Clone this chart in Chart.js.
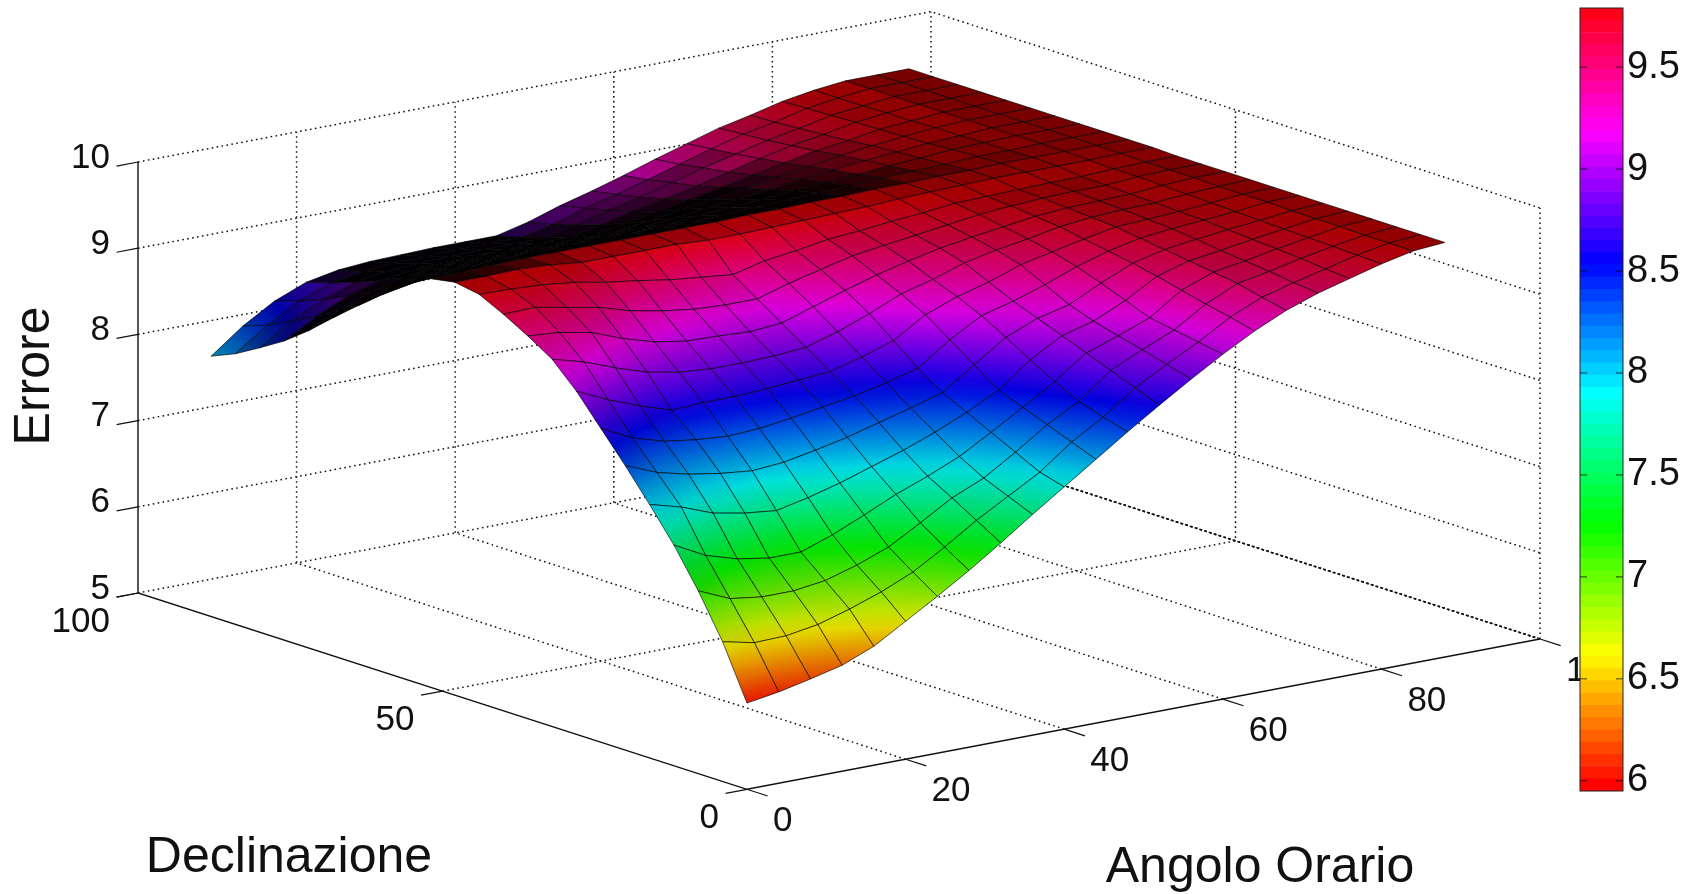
<!DOCTYPE html>
<html lang="it">
<head>
    <meta charset="UTF-8">
    <title>Errore - Angolo Orario - Declinazione</title>
    <style>
        body { margin: 0; background: #fff; overflow: hidden; }
        #surface { position: absolute; left: 0; top: 0; }
        #colorbar { position: absolute; left: 1570px; top: 0; }
    </style>
    <script src="https://cdn.jsdelivr.net/npm/chart.js"></script>
</head>
<body>
    <canvas id="surface" width="1693" height="894"></canvas>
    <canvas id="colorbar" width="123" height="894"></canvas>

    <script>
        // griglia
        const hourAngles = [0, 4, 8, 12, 16, 20, 24, 28, 32, 36, 40, 44, 48, 52, 56, 60, 64, 68, 72, 76, 80, 84, 88];
        const declinations = [0, 4, 8, 12, 16, 20, 24, 28, 32, 36, 40, 44, 48, 52, 56, 60, 64, 68, 72, 76, 80, 84, 88];

        // una riga per ogni angolo orario, una colonna per ogni declinazione
        const errorValues = [
            [6.00,6.62,7.12,7.56,7.94,8.30,8.64,8.98,9.26,9.44,9.60,9.74,9.79,9.74,9.58,9.37,9.15,8.92,8.68,8.47,8.30,8.14,8.02],
            [6.06,6.54,6.96,7.37,7.84,8.15,8.46,8.81,9.16,9.41,9.61,9.73,9.79,9.75,9.62,9.44,9.25,9.06,8.86,8.68,8.54,8.40,8.30],
            [6.14,6.55,6.91,7.26,7.70,8.06,8.35,8.67,9.02,9.34,9.54,9.71,9.80,9.76,9.65,9.50,9.34,9.17,9.00,8.85,8.72,8.61,8.52],
            [6.23,6.61,6.91,7.20,7.63,8.00,8.30,8.55,8.90,9.20,9.47,9.67,9.78,9.77,9.67,9.53,9.39,9.25,9.09,8.96,8.85,8.75,8.67],
            [6.38,6.72,6.96,7.20,7.59,7.96,8.27,8.57,8.83,9.09,9.36,9.60,9.74,9.77,9.68,9.55,9.42,9.28,9.14,9.01,8.91,8.81,8.74],
            [6.60,6.85,7.07,7.33,7.67,7.99,8.29,8.57,8.80,9.03,9.29,9.55,9.74,9.77,9.68,9.56,9.43,9.30,9.16,9.03,8.93,8.84,8.77],
            [6.82,7.01,7.21,7.49,7.77,8.06,8.34,8.59,8.80,9.02,9.24,9.49,9.74,9.77,9.68,9.56,9.43,9.30,9.16,9.04,8.94,8.85,8.78],
            [7.05,7.23,7.42,7.66,7.89,8.14,8.40,8.62,8.81,9.00,9.22,9.45,9.74,9.77,9.68,9.56,9.44,9.31,9.17,9.05,8.95,8.86,8.79],
            [7.30,7.47,7.64,7.80,8.01,8.24,8.46,8.65,8.84,9.03,9.22,9.41,9.72,9.77,9.68,9.56,9.44,9.31,9.17,9.05,8.95,8.86,8.79],
            [7.56,7.68,7.80,7.96,8.15,8.34,8.54,8.75,8.95,9.15,9.33,9.50,9.72,9.77,9.68,9.56,9.44,9.31,9.17,9.05,8.95,8.86,8.79],
            [7.81,7.89,8.03,8.17,8.31,8.45,8.64,8.87,9.09,9.27,9.42,9.55,9.73,9.78,9.69,9.59,9.47,9.35,9.23,9.12,9.03,8.94,8.88],
            [8.06,8.17,8.28,8.39,8.50,8.70,8.90,9.10,9.25,9.38,9.51,9.61,9.74,9.78,9.71,9.62,9.52,9.41,9.30,9.21,9.13,9.06,9.00],
            [8.31,8.39,8.48,8.62,8.78,8.95,9.11,9.24,9.35,9.47,9.56,9.64,9.75,9.79,9.72,9.64,9.55,9.46,9.36,9.28,9.21,9.15,9.10],
            [8.55,8.66,8.77,8.88,8.99,9.10,9.21,9.34,9.47,9.55,9.61,9.68,9.76,9.79,9.74,9.67,9.59,9.52,9.43,9.36,9.31,9.25,9.21],
            [8.78,8.86,8.94,9.01,9.09,9.19,9.33,9.47,9.55,9.61,9.66,9.71,9.78,9.80,9.75,9.70,9.64,9.58,9.51,9.45,9.41,9.36,9.33],
            [9.00,9.05,9.10,9.15,9.26,9.37,9.47,9.55,9.61,9.66,9.71,9.75,9.79,9.80,9.77,9.72,9.68,9.63,9.58,9.54,9.50,9.47,9.44],
            [9.20,9.27,9.33,9.40,9.47,9.53,9.58,9.63,9.68,9.71,9.74,9.76,9.80,9.81,9.78,9.75,9.72,9.69,9.65,9.62,9.59,9.57,9.55],
            [9.37,9.43,9.50,9.54,9.58,9.62,9.66,9.70,9.72,9.74,9.76,9.77,9.81,9.81,9.79,9.77,9.75,9.73,9.70,9.68,9.66,9.64,9.63],
            [9.50,9.53,9.57,9.60,9.63,9.67,9.70,9.72,9.74,9.75,9.77,9.78,9.81,9.82,9.81,9.80,9.78,9.77,9.76,9.75,9.74,9.73,9.72],
            [9.60,9.62,9.65,9.67,9.69,9.71,9.73,9.74,9.75,9.76,9.77,9.78,9.81,9.82,9.81,9.81,9.80,9.80,9.79,9.79,9.78,9.78,9.78],
            [9.70,9.71,9.72,9.73,9.74,9.75,9.76,9.77,9.78,9.79,9.80,9.80,9.81,9.82,9.82,9.82,9.82,9.82,9.82,9.82,9.82,9.82,9.82],
            [9.78,9.78,9.78,9.79,9.79,9.79,9.80,9.80,9.80,9.81,9.81,9.81,9.82,9.82,9.82,9.82,9.82,9.82,9.82,9.82,9.82,9.82,9.82],
            [9.81,9.81,9.81,9.81,9.81,9.81,9.81,9.81,9.81,9.81,9.81,9.81,9.82,9.82,9.82,9.82,9.82,9.82,9.82,9.82,9.82,9.82,9.82]
        ];

        // tacche degli assi
        const hourTicks = [0, 20, 40, 60, 80, 100];
        const declTicks = [0, 50, 100];
        const errorTicks = [5, 6, 7, 8, 9, 10];
        const barTicks = [6, 6.5, 7, 7.5, 8, 8.5, 9, 9.5];

        // livelli della colorbar (64 bande)
        const barLevels = [5.95,6.01,6.07,6.13,6.19,6.25,6.31,6.37,6.43,6.49,6.55,6.61,6.67,6.73,6.79,6.85,
            6.91,6.97,7.03,7.09,7.15,7.21,7.27,7.33,7.39,7.45,7.51,7.57,7.63,7.69,7.75,7.81,
            7.87,7.93,7.99,8.05,8.11,8.17,8.23,8.29,8.35,8.41,8.47,8.53,8.59,8.65,8.71,8.77,
            8.83,8.89,8.95,9.01,9.07,9.13,9.19,9.25,9.31,9.37,9.43,9.49,9.55,9.61,9.67,9.73,9.79];

        const FONT = '"Liberation Sans", Arial, sans-serif';
        const surfaceCanvas = document.getElementById('surface');
        const surfaceCtx = surfaceCanvas.getContext('2d');

        // proiezione ortografica del box (origine in h=0, d=0, z=5)
        function project(h, d, z) {
            return {
                x: 747 + 7.93 * h - 6.09 * d,
                y: 789.3 - 1.503 * h - 1.963 * d - 86.2 * (z - 5)
            };
        }

        // colormap hsv di matlab
        function hsvColor(hue, shade) {
            const i = Math.floor(hue * 6), f = hue * 6 - i;
            const rgb = [[1, f, 0], [1 - f, 1, 0], [0, 1, f], [0, 1 - f, 1], [f, 0, 1], [1, 0, 1 - f]][i % 6];
            return 'rgb(' + rgb.map(c => Math.round(c * 255 * shade)).join(',') + ')';
        }

        function valueColor(value, shade) {
            const lo = barLevels[0], hi = barLevels[barLevels.length - 1];
            return hsvColor(Math.max(0, Math.min(0.999, (value - lo) / (hi - lo))), shade);
        }

        // la maglia originale e' circa tre volte piu' fitta: ne scurisco il riempimento
        function meshShade(pts) {
            let area = 0, perim = 0;
            for (let i = 0; i < 4; i++) {
                const a = pts[i], b = pts[i + 1];
                area += a.x * b.y - b.x * a.y;
                perim += Math.hypot(b.x - a.x, b.y - a.y);
            }
            area = Math.abs(area) / 2 / 9;
            const ink = perim / 3 / (2 * Math.max(area, 1));
            return Math.max(0.05, 1 - 1.8 * Math.pow(ink, 1.5));
        }

        // riempimento sfumato della cella, come shading interp
        function cellFill(pts, zs, backFold) {
            const shade = meshShade(pts) * backFold;
            const zMin = Math.min(...zs), zMax = Math.max(...zs);
            const zMid = (zs[0] + zs[1] + zs[2] + zs[3]) / 4;
            const ax = pts[2].x - pts[0].x, ay = pts[2].y - pts[0].y;
            const bx = pts[3].x - pts[1].x, by = pts[3].y - pts[1].y;
            const dA = zs[2] - zs[0], dB = zs[3] - zs[1];
            const det = ax * by - ay * bx;
            if (Math.abs(det) < 1 || zMax - zMin < 0.01) return valueColor(zMid, shade);
            const gx = (dA * by - dB * ay) / det, gy = (ax * dB - bx * dA) / det;
            const g2 = gx * gx + gy * gy;
            const cx = (pts[0].x + pts[1].x + pts[2].x + pts[3].x) / 4;
            const cy = (pts[0].y + pts[1].y + pts[2].y + pts[3].y) / 4;
            const grad = surfaceCtx.createLinearGradient(
                cx + gx * (zMin - zMid) / g2, cy + gy * (zMin - zMid) / g2,
                cx + gx * (zMax - zMid) / g2, cy + gy * (zMax - zMid) / g2);
            for (let k = 0; k <= 3; k++) {
                grad.addColorStop(k / 3, valueColor(zMin + (zMax - zMin) * k / 3, shade));
            }
            return grad;
        }

        function line3d(points, color, width, dash) {
            return {
                type: 'scatter',
                data: points.map(p => project(p[0], p[1], p[2])),
                showLine: true, fill: false, pointRadius: 0,
                borderColor: color, borderWidth: width, borderDash: dash || []
            };
        }

        const datasets = [];

        // assi solidi e tacche, davanti a tutto
        datasets.push(line3d([[100, 0, 5], [0, 0, 5], [0, 100, 5], [0, 100, 10]], '#111', 1.4));
        hourTicks.forEach(h => datasets.push(line3d([[h, 0, 5], [h, -3.4, 5]], '#111', 1.2)));
        declTicks.forEach(d => datasets.push(line3d([[0, d, 5], [-2.7, d, 5]], '#111', 1.2)));
        errorTicks.forEach(z => datasets.push(line3d([[0, 100, z], [-2.7, 100, z]], '#111', 1.2)));

        // superficie, dalla cella piu' vicina alla piu' lontana (il dataset 0 sta sopra)
        for (let j = 0; j < declinations.length - 1; j++) {
            for (let i = 0; i < hourAngles.length - 1; i++) {
                const zs = [errorValues[i][j], errorValues[i + 1][j], errorValues[i + 1][j + 1], errorValues[i][j + 1]];
                const pts = [
                    project(hourAngles[i], declinations[j], zs[0]),
                    project(hourAngles[i + 1], declinations[j], zs[1]),
                    project(hourAngles[i + 1], declinations[j + 1], zs[2]),
                    project(hourAngles[i], declinations[j + 1], zs[3]),
                    project(hourAngles[i], declinations[j], zs[0])
                ];
                // dietro la cresta la maglia si chiude e diventa quasi nera (tranne la punta)
                const slope = (zs[2] + zs[3] - zs[0] - zs[1]) / 2 / (declinations[j + 1] - declinations[j]);
                const nearTip = declinations[j] >= 72 && hourAngles[i] < 12;
                const backFold = (slope < -0.01 && !nearTip) ? Math.max(0.3, 1 + slope * 25) : 1;
                datasets.push({
                    type: 'scatter',
                    data: pts,
                    showLine: true, fill: 'shape', pointRadius: 0,
                    backgroundColor: cellFill(pts, zs, backFold),
                    borderColor: 'rgba(0,0,0,0.7)', borderWidth: 0.9
                });
            }
        }

        // griglia punteggiata del box
        const DOT = [1.6, 3.4];
        errorTicks.forEach(z => {
            datasets.push(line3d([[0, 100, z], [100, 100, z], [100, 0, z]], '#111', 1.5, DOT));
        });
        hourTicks.slice(1).forEach(h => {
            datasets.push(line3d([[h, 0, 5], [h, 100, 5], [h, 100, 10]], '#111', 1.5, DOT));
        });
        declTicks.slice(1, 2).forEach(d => {
            datasets.push(line3d([[0, d, 5], [100, d, 5], [100, d, 10]], '#111', 1.5, DOT));
        });
        datasets.push(line3d([[100, 0, 5], [100, 0, 10]], '#111', 1.5, DOT));
        datasets.push(line3d([[100, 0, 5], [100, 100, 5]], '#111', 1.5, [3, 2]));

        // testi: tacche e nomi degli assi
        const axisText = {
            id: 'axisText',
            afterDatasetsDraw(chart) {
                const { ctx, scales } = chart;
                const put = (txt, p, dx, dy, align) => {
                    ctx.textAlign = align;
                    ctx.fillText(txt, scales.x.getPixelForValue(p.x) + dx, scales.y.getPixelForValue(p.y) + dy);
                };
                ctx.save();
                ctx.fillStyle = '#111';
                ctx.textBaseline = 'middle';
                ctx.font = '35px ' + FONT;
                errorTicks.forEach(z => put(String(z), project(0, 100, z), -28, -4, 'right'));
                declTicks.forEach(d => put(String(d), project(0, d, 5), -28, 29, 'right'));
                hourTicks.forEach(h => put(String(h), project(h, 0, 5), 26, 32, 'left'));
                ctx.font = '50px ' + FONT;
                ctx.textAlign = 'center';
                ctx.fillText('Declinazione', 289, 858);
                ctx.fillText('Angolo Orario', 1260, 868);
                ctx.translate(35, 376);
                ctx.rotate(-Math.PI / 2);
                ctx.fillText('Errore', 0, 0);
                ctx.restore();
            }
        };

        new Chart(surfaceCanvas, {
            type: 'scatter',
            data: { datasets: datasets },
            options: {
                responsive: false,
                animation: false,
                clip: false,
                layout: { padding: 0 },
                plugins: {
                    legend: { display: false },
                    tooltip: { enabled: false },
                    filler: { drawTime: 'beforeDatasetDraw' }
                },
                scales: {
                    x: { type: 'linear', display: false, min: 0, max: 1693 },
                    y: { type: 'linear', display: false, min: 0, max: 894, reverse: true }
                }
            },
            plugins: [axisText]
        });

        // tacchette interne della colorbar
        const barTickMarks = {
            id: 'barTickMarks',
            afterDatasetsDraw(chart) {
                const { ctx, chartArea, scales } = chart;
                ctx.save();
                ctx.strokeStyle = 'rgba(0,0,0,0.75)';
                ctx.lineWidth = 1;
                ctx.beginPath();
                barTicks.forEach(v => {
                    const y = scales.y.getPixelForValue(v);
                    ctx.moveTo(chartArea.left, y); ctx.lineTo(chartArea.left + 7, y);
                    ctx.moveTo(chartArea.right - 7, y); ctx.lineTo(chartArea.right, y);
                });
                ctx.stroke();
                ctx.strokeStyle = '#222';
                ctx.strokeRect(chartArea.left, chartArea.top, chartArea.width, chartArea.height);
                ctx.restore();
            }
        };

        new Chart(document.getElementById('colorbar'), {
            type: 'bar',
            data: {
                labels: ['c'],
                datasets: barLevels.slice(0, -1).map((lo, i) => ({
                    data: [[lo, barLevels[i + 1]]],
                    backgroundColor: hsvColor(i / 64, 1),
                    borderWidth: 0,
                    grouped: false,
                    barPercentage: 1,
                    categoryPercentage: 1
                }))
            },
            options: {
                responsive: false,
                animation: false,
                layout: { padding: { left: 10, right: 0, top: 8, bottom: 103 } },
                plugins: { legend: { display: false }, tooltip: { enabled: false } },
                scales: {
                    x: { display: false },
                    y: {
                        position: 'right',
                        min: 5.95, max: 9.79,
                        grid: { display: false, drawTicks: false, tickLength: 0 },
                        border: { display: false },
                        afterFit(scale) { scale.width = 70; scale.paddingTop = 0; scale.paddingBottom = 0; },
                        afterBuildTicks(scale) { scale.ticks = barTicks.map(v => ({ value: v })); },
                        ticks: {
                            autoSkip: false,
                            padding: 4,
                            color: '#111',
                            font: { family: 'Liberation Sans', size: 38 },
                            callback: v => String(v)
                        }
                    }
                }
            },
            plugins: [barTickMarks]
        });
    </script>
</body>
</html>
